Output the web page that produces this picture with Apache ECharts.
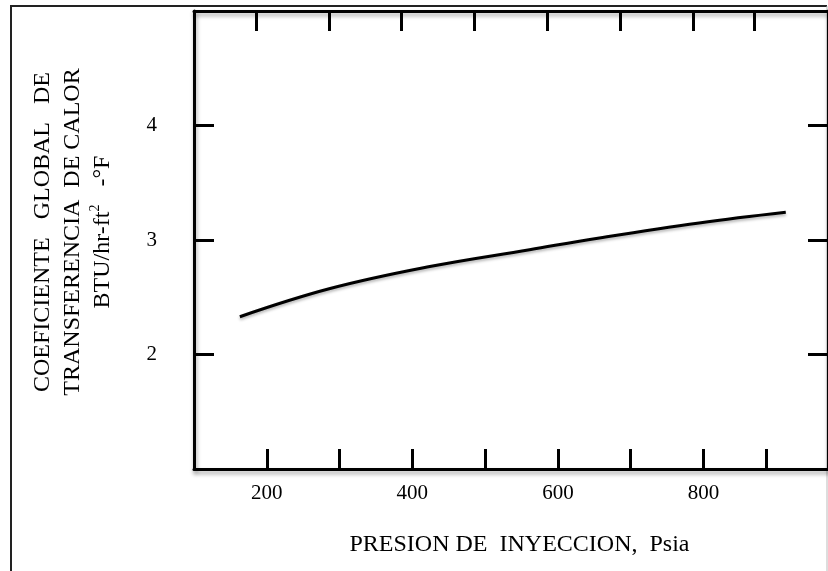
<!DOCTYPE html>
<html>
<head>
<meta charset="utf-8">
<script src="https://cdn.jsdelivr.net/npm/echarts@6/dist/echarts.min.js"></script>
<style>html,body{margin:0;padding:0;background:#fff}#c{width:828px;height:571px}</style>
</head>
<body>
<div id="c"></div>
<script>
// Curve: pressure (psia) vs coefficient (BTU/hr-ft2-°F)
const pressure = [163, 287, 424, 561, 657, 794, 913];
const coefficient = [2.33, 2.576, 2.768, 2.915, 3.018, 3.149, 3.242];
// Ticks and labels
const xLabelValues = [200, 400, 600, 800];
const xBottomTicks = [200, 300, 400, 500, 600, 700, 800, 886];
const xTopTicks = [186, 286, 385, 485, 585, 686, 786, 870];
const yTickValues = [2, 3, 4];
const xName = 'PRESION DE  INYECCION,  Psia';
const yNameLines = ['COEFICIENTE   GLOBAL   DE', 'TRANSFERENCIA  DE CALOR', 'BTU/hr-ft', '2', '   -°F'];

const serif = "'Liberation Serif', 'Times New Roman', serif";
const shadow = {shadowColor: 'rgba(0,0,0,0.35)', shadowBlur: 4, shadowOffsetX: 1, shadowOffsetY: 3};
const axisLineStyle = Object.assign({color: '#000', width: 3}, shadow);
const tickStyle = {color: '#000', width: 3};

const chart = echarts.init(document.getElementById('c'), null, {renderer: 'canvas'});
chart.setOption({
  animation: false,
  backgroundColor: '#fff',
  graphic: [
    {type: 'polyline', shape: {points: [[11, 575], [11, 6], [827, 6]]}, style: {stroke: '#222', lineWidth: 2, fill: null}},
    {type: 'line', shape: {x1: 827, y1: 6, x2: 827, y2: 575}, style: {stroke: '#bbb', lineWidth: 1}}
  ],
  grid: {left: 194, top: 11, right: -1, bottom: 102, containLabel: false},
  xAxis: [
    {
      type: 'value', position: 'bottom', min: 100, max: 971,
      splitLine: {show: false},
      axisLine: {show: true, onZero: false, lineStyle: axisLineStyle},
      axisTick: {show: true, inside: true, length: 20, customValues: xBottomTicks, lineStyle: tickStyle},
      axisLabel: {show: true, customValues: xLabelValues, margin: 14, fontSize: 21, color: '#000', fontFamily: serif},
      name: xName, nameLocation: 'middle', nameGap: 64,
      nameTextStyle: {fontSize: 24, color: '#000', fontFamily: serif, padding: [0, 0, 0, 17]}
    },
    {
      type: 'value', position: 'top', min: 100, max: 971,
      splitLine: {show: false},
      axisLine: {show: true, onZero: false, lineStyle: axisLineStyle},
      axisTick: {show: true, inside: true, length: 20, customValues: xTopTicks, lineStyle: tickStyle},
      axisLabel: {show: false}
    }
  ],
  yAxis: [
    {
      type: 'value', position: 'left', min: 1, max: 5,
      splitLine: {show: false},
      axisLine: {show: true, onZero: false, lineStyle: axisLineStyle},
      axisTick: {show: true, inside: true, length: 20, customValues: yTickValues, lineStyle: tickStyle},
      axisLabel: {show: true, customValues: yTickValues, margin: 37, fontSize: 21, color: '#000', fontFamily: serif},
      name: '{a|' + yNameLines[0] + '}\n{a|' + yNameLines[1] + '}\n{a|' + yNameLines[2] + '}{s|' + yNameLines[3] + '}{a|' + yNameLines[4] + '}',
      nameLocation: 'middle', nameRotate: 90, nameGap: 76,
      nameTextStyle: {
        align: 'center', padding: [0, 0, 0, 16],
        rich: {
          a: {fontSize: 24, lineHeight: 30, color: '#000', fontFamily: serif},
          s: {fontSize: 14, lineHeight: 20, verticalAlign: 'top', color: '#000', fontFamily: serif}
        }
      }
    },
    {
      type: 'value', position: 'right', min: 1, max: 5,
      splitLine: {show: false},
      axisLine: {show: true, onZero: false, lineStyle: axisLineStyle},
      axisTick: {show: true, inside: true, length: 20, customValues: yTickValues, lineStyle: tickStyle},
      axisLabel: {show: false}
    }
  ],
  series: [{
    type: 'line',
    data: pressure.map((p, i) => [p, coefficient[i]]),
    smooth: 0.4,
    showSymbol: false,
    symbol: 'none',
    lineStyle: {color: '#000', width: 3, shadowColor: 'rgba(0,0,0,0.3)', shadowBlur: 3, shadowOffsetY: 2}
  }]
});
</script>
</body>
</html>
